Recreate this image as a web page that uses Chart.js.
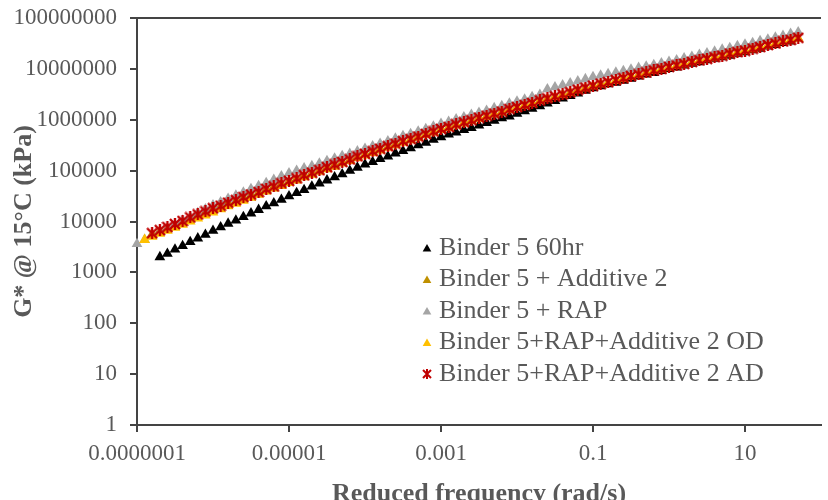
<!DOCTYPE html>
<html>
<head>
<meta charset="utf-8">
<script src="https://cdn.jsdelivr.net/npm/chart.js@4.4.1/dist/chart.umd.min.js"></script>
<style>
  html, body { margin: 0; padding: 0; background: #ffffff; }
  #wrap { width: 828px; height: 500px; }
</style>
</head>
<body>
<div id="wrap"><canvas id="chart" width="828" height="500"></canvas></div>
<script>
// reduced frequency (rad/s), shared sampling for all series
const freq = [
  1.00e-7, 1.26e-7, 1.58e-7, 2.00e-7, 2.51e-7, 3.16e-7, 3.98e-7, 5.01e-7, 6.31e-7, 7.94e-7,
  1.00e-6, 1.26e-6, 1.58e-6, 2.00e-6, 2.51e-6, 3.16e-6, 3.98e-6, 5.01e-6, 6.31e-6, 7.94e-6,
  1.00e-5, 1.26e-5, 1.58e-5, 2.00e-5, 2.51e-5, 3.16e-5, 3.98e-5, 5.01e-5, 6.31e-5, 7.94e-5,
  1.00e-4, 1.26e-4, 1.58e-4, 2.00e-4, 2.51e-4, 3.16e-4, 3.98e-4, 5.01e-4, 6.31e-4, 7.94e-4,
  1.00e-3, 1.26e-3, 1.58e-3, 2.00e-3, 2.51e-3, 3.16e-3, 3.98e-3, 5.01e-3, 6.31e-3, 7.94e-3,
  1.00e-2, 1.26e-2, 1.58e-2, 2.00e-2, 2.51e-2, 3.16e-2, 3.98e-2, 5.01e-2, 6.31e-2, 7.94e-2,
  0.100, 0.126, 0.158, 0.200, 0.251, 0.316, 0.398, 0.501, 0.631, 0.794,
  1.00, 1.26, 1.58, 2.00, 2.51, 3.16, 3.98, 5.01, 6.31, 7.94,
  10.0, 12.6, 15.8, 20.0, 25.1, 31.6, 39.8, 50.1
];

// G* (kPa)
const g60hr = [
  null, null, null, 2000, 2340, 2820, 3310, 3980, 4680, 5500,
  6610, 7760, 9120, 10500, 12300, 14500, 17000, 20000, 22900, 26900,
  31600, 36300, 41700, 49000, 56200, 64600, 74100, 85100, 1.00e5, 1.15e5,
  1.32e5, 1.48e5, 1.70e5, 1.91e5, 2.19e5, 2.45e5, 2.75e5, 3.16e5, 3.55e5, 4.07e5,
  4.57e5, 5.13e5, 5.62e5, 6.31e5, 6.92e5, 7.76e5, 8.71e5, 9.55e5, 1.07e6, 1.17e6,
  1.32e6, 1.48e6, 1.66e6, 1.86e6, 2.09e6, 2.34e6, 2.63e6, 2.95e6, 3.31e6, 3.72e6,
  4.17e6, 4.57e6, 5.01e6, 5.37e6, 5.89e6, 6.46e6, 7.08e6, 7.76e6, 8.32e6, 9.12e6,
  1.00e7, 1.07e7, 1.17e7, 1.26e7, 1.35e7, 1.48e7, 1.58e7, 1.70e7, 1.82e7, 2.00e7,
  2.14e7, 2.34e7, 2.51e7, 2.75e7, 2.95e7, 3.24e7, 3.47e7, null
];
const gAdd2 = [
  null, null, 5600, 6500, 7400, 8500, 9800, 11500, 13200, 15100,
  17400, 19800, 22600, 25500, 29200, 33000, 37000, 42500, 47900, 54900,
  61700, 69200, 79400, 89100, 1.00e5, 1.15e5, 1.29e5, 1.45e5, 1.62e5, 1.86e5,
  2.09e5, 2.34e5, 2.63e5, 2.95e5, 3.31e5, 3.72e5, 4.07e5, 4.57e5, 5.13e5, 5.75e5,
  6.46e5, 7.08e5, 7.94e5, 8.71e5, 9.55e5, 1.07e6, 1.17e6, 1.29e6, 1.41e6, 1.58e6,
  1.74e6, 1.91e6, 2.09e6, 2.34e6, 2.57e6, 2.82e6, 3.09e6, 3.39e6, 3.80e6, 4.17e6,
  4.57e6, 5.01e6, 5.37e6, 5.89e6, 6.46e6, 7.08e6, 7.59e6, 8.32e6, 9.12e6, 9.77e6,
  1.07e7, 1.15e7, 1.23e7, 1.35e7, 1.45e7, 1.55e7, 1.66e7, 1.78e7, 1.95e7, 2.09e7,
  2.24e7, 2.45e7, 2.63e7, 2.88e7, 3.09e7, 3.39e7, 3.63e7, 3.98e7
];
const gRap = [
  3630, 4370, 5130, 6170, 7240, 8710, 10500, 12300, 14800, 17400,
  20900, 24000, 28200, 32400, 37200, 43700, 50100, 57500, 66100, 77600,
  89100, 1.00e5, 1.12e5, 1.23e5, 1.38e5, 1.55e5, 1.74e5, 1.95e5, 2.14e5, 2.40e5,
  2.69e5, 3.02e5, 3.39e5, 3.80e5, 4.27e5, 4.79e5, 5.25e5, 5.89e5, 6.61e5, 7.41e5,
  8.32e5, 9.12e5, 1.02e6, 1.12e6, 1.26e6, 1.38e6, 1.51e6, 1.70e6, 1.86e6, 2.09e6,
  2.29e6, 2.51e6, 2.82e6, 3.09e6, 3.98e6, 4.37e6, 4.79e6, 5.25e6, 5.75e6, 6.31e6,
  6.92e6, 7.41e6, 7.94e6, 8.51e6, 9.12e6, 9.77e6, 1.05e7, 1.12e7, 1.20e7, 1.29e7,
  1.38e7, 1.48e7, 1.62e7, 1.74e7, 1.91e7, 2.04e7, 2.19e7, 2.40e7, 2.57e7, 2.82e7,
  3.02e7, 3.24e7, 3.55e7, 3.80e7, 4.17e7, 4.47e7, 4.90e7, 5.25e7
];
const gOD = [
  null, 4370, 5010, 5750, 6610, 7590, 8710, 10000, 11500, 13200,
  15100, 17400, 20000, 22400, 25700, 29500, 33900, 38900, 44700, 50100,
  57500, 64600, 74100, 83200, 95500, 1.07e5, 1.20e5, 1.38e5, 1.55e5, 1.78e5,
  2.00e5, 2.24e5, 2.51e5, 2.82e5, 3.16e5, 3.55e5, 3.98e5, 4.47e5, 5.01e5, 5.62e5,
  6.31e5, 6.92e5, 7.76e5, 8.51e5, 9.55e5, 1.05e6, 1.15e6, 1.29e6, 1.41e6, 1.58e6,
  1.74e6, 1.91e6, 2.09e6, 2.34e6, 2.57e6, 2.82e6, 3.09e6, 3.39e6, 3.80e6, 4.17e6,
  4.57e6, 5.01e6, 5.37e6, 5.89e6, 6.46e6, 7.08e6, 7.59e6, 8.32e6, 9.12e6, 9.77e6,
  1.07e7, 1.15e7, 1.26e7, 1.35e7, 1.45e7, 1.58e7, 1.70e7, 1.82e7, 2.00e7, 2.14e7,
  2.29e7, 2.45e7, 2.69e7, 2.88e7, 3.16e7, 3.39e7, 3.72e7, 3.98e7
];
const gAD = [
  null, null, 5890, 6760, 7760, 8910, 10200, 12000, 13800, 15800,
  18200, 20400, 23400, 26300, 30200, 33900, 38000, 43700, 49000, 56200,
  63100, 70800, 81300, 91200, 1.02e5, 1.17e5, 1.32e5, 1.48e5, 1.66e5, 1.91e5,
  2.14e5, 2.40e5, 2.69e5, 3.02e5, 3.39e5, 3.80e5, 4.17e5, 4.68e5, 5.25e5, 5.89e5,
  6.61e5, 7.24e5, 8.13e5, 8.91e5, 9.77e5, 1.10e6, 1.20e6, 1.32e6, 1.45e6, 1.62e6,
  1.78e6, 1.95e6, 2.14e6, 2.40e6, 2.63e6, 2.88e6, 3.16e6, 3.47e6, 3.89e6, 4.27e6,
  4.68e6, 5.13e6, 5.50e6, 6.03e6, 6.61e6, 7.24e6, 7.76e6, 8.51e6, 9.33e6, 1.00e7,
  1.10e7, 1.17e7, 1.26e7, 1.38e7, 1.48e7, 1.58e7, 1.70e7, 1.82e7, 2.00e7, 2.14e7,
  2.29e7, 2.51e7, 2.69e7, 2.95e7, 3.16e7, 3.47e7, 3.72e7, 4.07e7
];

const seriesNames = [
  'Binder 5 60hr',
  'Binder 5 + Additive 2',
  'Binder 5 + RAP',
  'Binder 5+RAP+Additive 2 OD',
  'Binder 5+RAP+Additive 2 AD'
];

const xTickValues = [1e-7, 1e-5, 1e-3, 0.1, 10];
const xTickLabels = ['0.0000001', '0.00001', '0.001', '0.1', '10'];
const yTickValues = [1, 10, 100, 1000, 1e4, 1e5, 1e6, 1e7, 1e8];
const yTickLabels = ['1', '10', '100', '1000', '10000', '100000', '1000000', '10000000', '100000000'];

const serif = '"Liberation Serif", "Times New Roman", serif';
const textColor = '#595959';
const axisColor = '#444444';

function makeStar(color, size, width) {
  const c = document.createElement('canvas');
  c.width = size;
  c.height = size;
  const g = c.getContext('2d');
  g.strokeStyle = color;
  g.lineWidth = width;
  g.beginPath();
  g.moveTo(1, 1); g.lineTo(size - 1, size - 1);
  g.moveTo(size - 1, 1); g.lineTo(1, size - 1);
  g.moveTo(size / 2, 0); g.lineTo(size / 2, size);
  g.stroke();
  return c;
}

function toPoints(values) {
  const pts = [];
  values.forEach((v, i) => {
    if (v !== null) pts.push({ x: freq[i], y: v });
  });
  return pts;
}

const redStar = makeStar('#C00000', 12, 2.4);
const redStarSmall = makeStar('#C00000', 10, 2);

function triangleSet(label, values, color, order) {
  return {
    label: label,
    data: toPoints(values),
    pointStyle: 'triangle',
    pointRadius: 6.2,
    pointBackgroundColor: color,
    pointBorderColor: color,
    pointBorderWidth: 0,
    showLine: false,
    order: order,
    clip: false
  };
}

const datasets = [
  triangleSet(seriesNames[0], g60hr, '#000000', 5),
  triangleSet(seriesNames[1], gAdd2, '#BF9000', 4),
  triangleSet(seriesNames[2], gRap, '#A5A5A5', 3),
  triangleSet(seriesNames[3], gOD, '#FFC000', 2),
  {
    label: seriesNames[4],
    data: toPoints(gAD),
    pointStyle: redStar,
    pointRadius: 6,
    showLine: false,
    order: 1,
    clip: false
  }
];

// legend drawn inside the plot area, like the original
const insideLegend = {
  id: 'insideLegend',
  afterDraw(chart) {
    const ctx = chart.ctx;
    ctx.save();
    chart.data.datasets.forEach((ds, i) => {
      const y = 248 + i * 31.5;
      if (ds.pointStyle === 'triangle') {
        ctx.fillStyle = ds.pointBackgroundColor;
        Chart.helpers.drawPoint(ctx, { pointStyle: 'triangle', radius: 5, rotation: 0, borderWidth: 0 }, 427, y + 1);
      } else {
        ctx.drawImage(redStarSmall, 427 - 5, y - 5);
      }
      ctx.font = '26px ' + serif;
      ctx.fillStyle = textColor;
      ctx.textBaseline = 'middle';
      ctx.textAlign = 'left';
      ctx.fillText(ds.label, 439, y);
    });
    ctx.restore();
  }
};

// top edge of the plot area
const topBorder = {
  id: 'topBorder',
  afterDraw(chart) {
    const a = chart.chartArea;
    const ctx = chart.ctx;
    ctx.save();
    ctx.strokeStyle = axisColor;
    ctx.lineWidth = 2;
    ctx.beginPath();
    ctx.moveTo(a.left - 1, a.top);
    ctx.lineTo(a.right, a.top);
    ctx.stroke();
    ctx.restore();
  }
};

new Chart(document.getElementById('chart'), {
  type: 'scatter',
  data: { datasets: datasets },
  plugins: [insideLegend, topBorder],
  options: {
    responsive: false,
    animation: false,
    devicePixelRatio: 1,
    layout: { padding: { top: 18, right: 0, bottom: 0, left: 0 } },
    plugins: {
      legend: { display: false },
      tooltip: { enabled: false }
    },
    scales: {
      x: {
        type: 'logarithmic',
        position: 'bottom',
        min: 1e-7,
        max: 100,
        afterFit(scale) {
          scale.height = 75;
          scale.paddingLeft = 0;
          scale.paddingRight = 0;
        },
        afterBuildTicks(scale) { scale.ticks = xTickValues.map(v => ({ value: v })); },
        ticks: {
          callback: (v, i) => xTickLabels[i],
          font: { family: serif, size: 23 },
          color: textColor,
          padding: 8,
          autoSkip: false,
          maxRotation: 0
        },
        grid: { drawOnChartArea: false, drawTicks: true, tickLength: 7, color: axisColor, lineWidth: 2 },
        border: { display: true, color: axisColor, width: 2 },
        title: {
          display: true,
          text: 'Reduced frequency (rad/s)',
          font: { family: serif, size: 26, weight: 'bold' },
          color: textColor,
          padding: { top: 0, bottom: -10 }
        }
      },
      y: {
        type: 'logarithmic',
        position: 'left',
        min: 1,
        max: 1e8,
        afterFit(scale) {
          scale.width = 137;
          scale.paddingTop = 0;
          scale.paddingBottom = 0;
        },
        afterBuildTicks(scale) { scale.ticks = yTickValues.map(v => ({ value: v })); },
        ticks: {
          callback: (v, i) => yTickLabels[i],
          font: { family: serif, size: 23 },
          color: textColor,
          padding: 13,
          autoSkip: false
        },
        grid: { drawOnChartArea: false, drawTicks: true, tickLength: 7, color: axisColor, lineWidth: 2 },
        border: { display: true, color: axisColor, width: 2 },
        title: {
          display: true,
          text: 'G* @ 15°C (kPa)',
          font: { family: serif, size: 26, weight: 'bold' },
          color: textColor,
          padding: { top: 8.4, bottom: 0 }
        }
      }
    }
  }
});
</script>
</body>
</html>
